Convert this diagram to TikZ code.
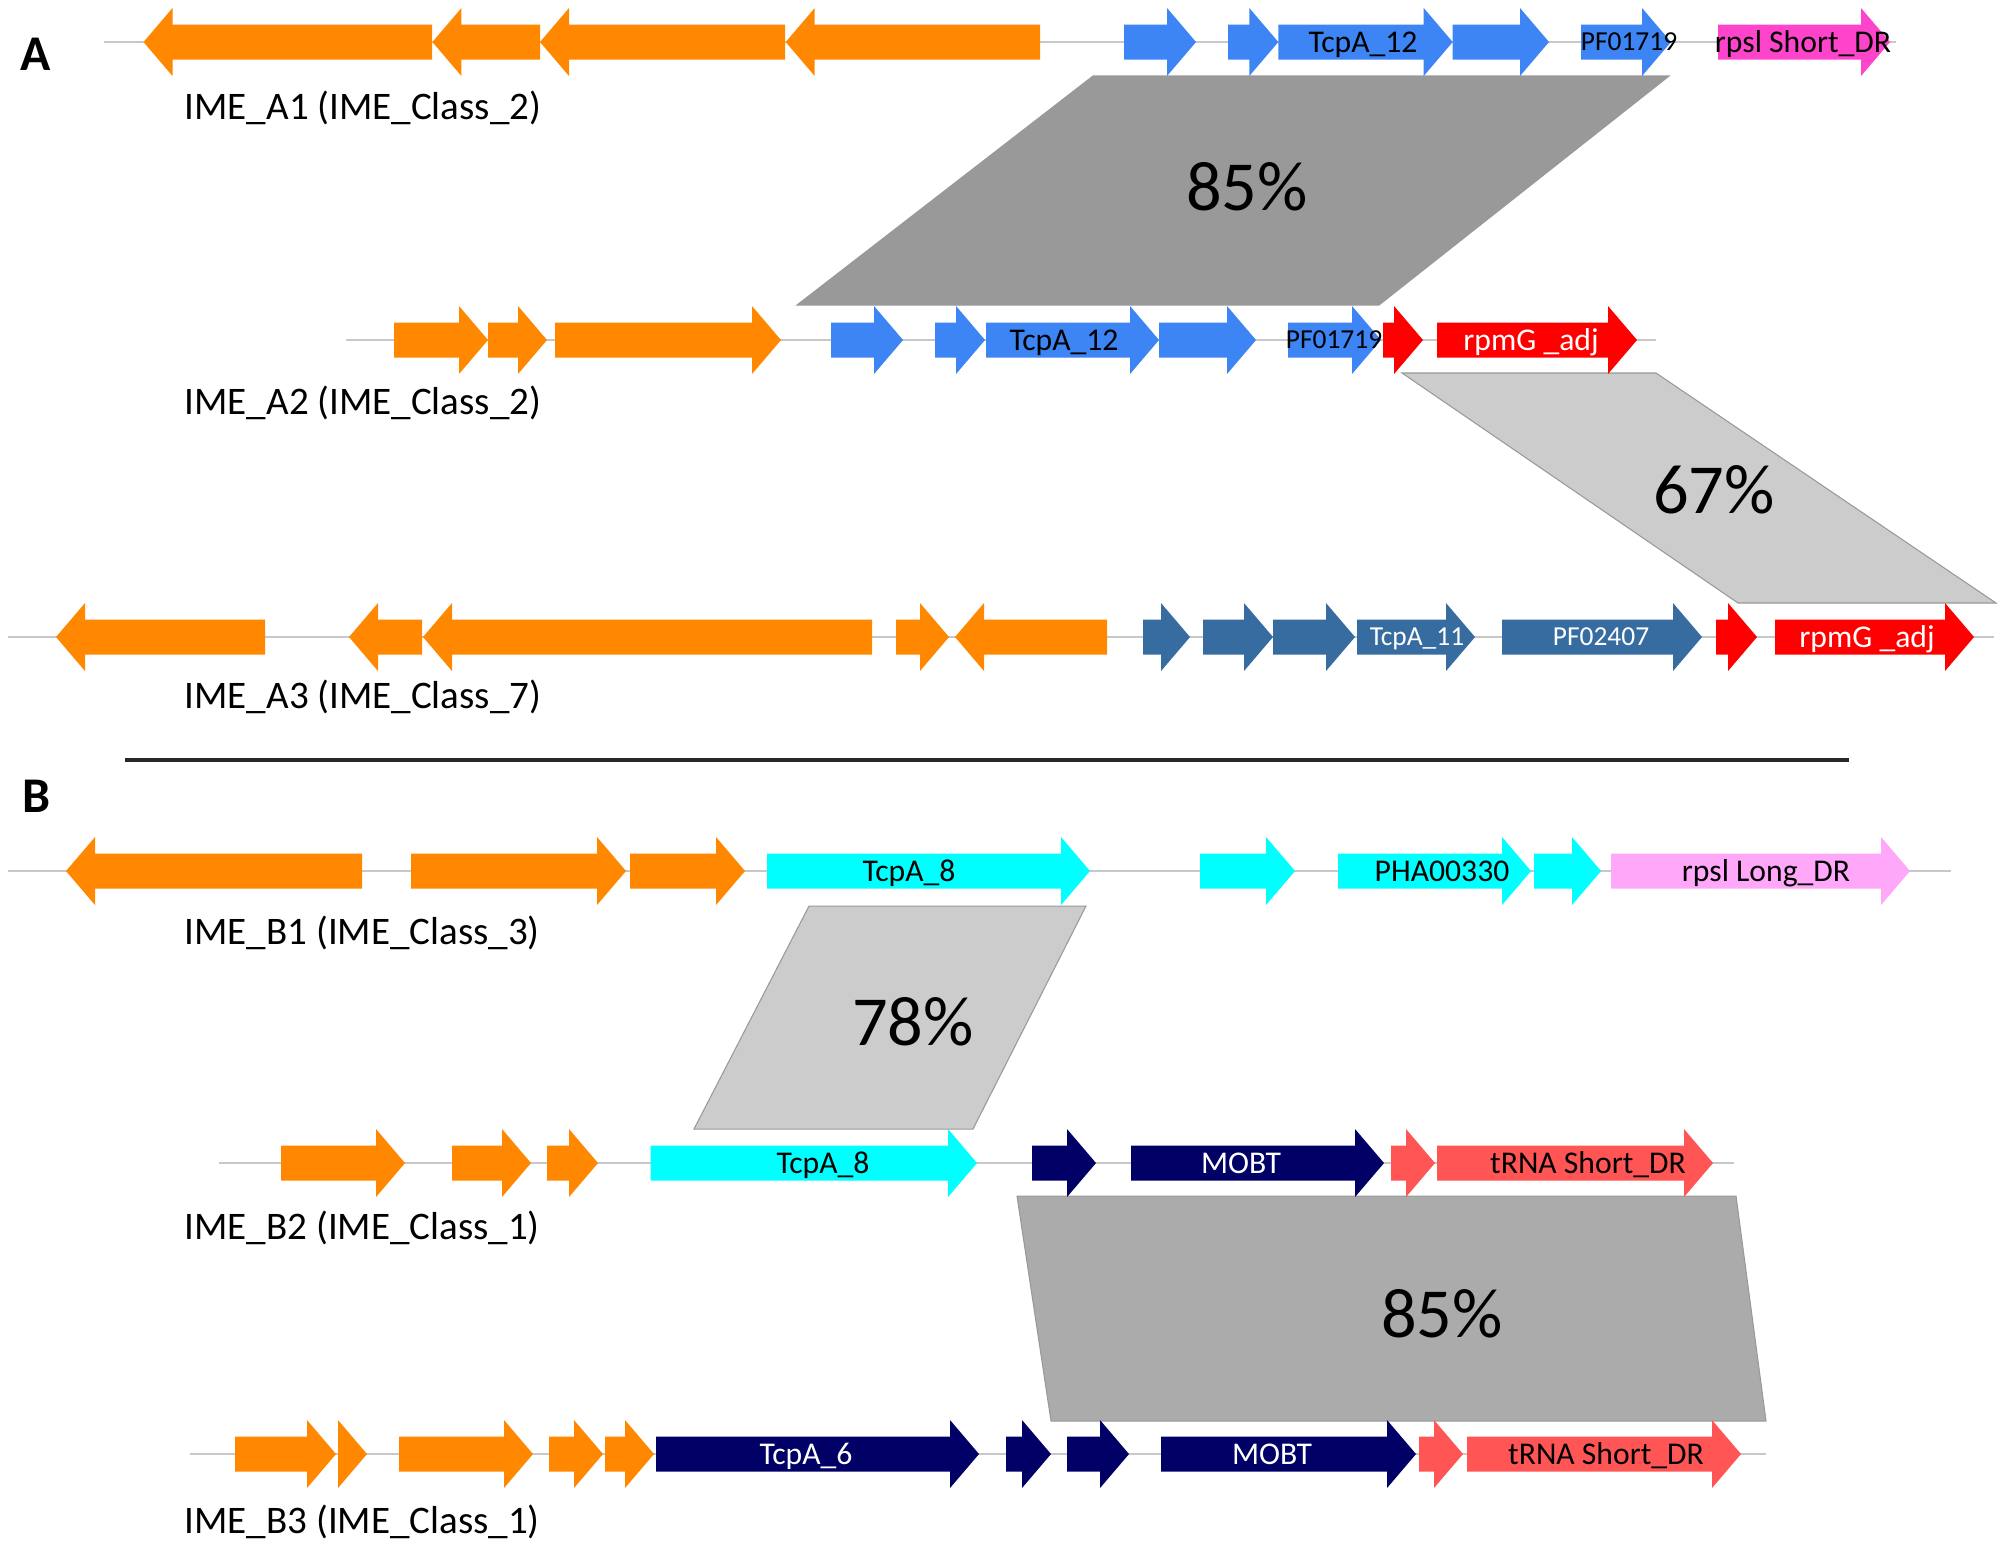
\documentclass[tikz,border=0pt]{standalone}
\usepackage{fontspec}
\setmainfont{Carlito}
\usetikzlibrary{positioning}
\definecolor{geneorange}{RGB}{255,136,0}
\definecolor{geneblue}{RGB}{61,133,245}
\definecolor{genesteel}{RGB}{54,108,160}
\definecolor{genered}{RGB}{255,0,0}
\definecolor{genemagenta}{RGB}{255,68,204}
\definecolor{genecyan}{RGB}{0,255,255}
\definecolor{genepink}{RGB}{255,168,250}
\definecolor{genenavy}{RGB}{0,0,102}
\definecolor{genesalmon}{RGB}{255,85,85}
\definecolor{trackgray}{RGB}{200,200,200}

% tail x, tip x, track y, colour
\newcommand{\gene}[4]{%
  \pgfmathsetmacro{\headx}{#2-(#2>#1?1:-1)*min(29,abs(#2-#1))}%
  \fill[#4] (#1,#3-17.5) -- (\headx,#3-17.5) -- (\headx,#3-34) -- (#2,#3)
    -- (\headx,#3+34) -- (\headx,#3+17.5) -- (#1,#3+17.5) -- cycle;}

\begin{document}
\begin{tikzpicture}[x=0.01cm, y=-0.01cm,
        track/.style={draw=trackgray, line width=0.7pt},
        genetext/.style={inner sep=0pt, font=\fontsize{9}{10}\selectfont, text height=5.8pt, text depth=0pt},
        smalltext/.style={genetext, font=\fontsize{7.8}{9}\selectfont, text height=5pt},
        imelabel/.style={anchor=west, inner sep=0pt, font=\fontsize{11.1}{13}\selectfont, text height=7.2pt, text depth=0pt},
        pct/.style={inner sep=0pt, font=\fontsize{20}{24}\selectfont, text height=12.6pt, text depth=0pt},
        panel/.style={inner sep=0pt, font=\fontsize{14.2}{17}\selectfont\bfseries, text height=9.2pt, text depth=0pt},
        block/.style={draw=black!40, line width=0.3pt}
    ]
        \path[use as bounding box, fill=white] (0,0) rectangle (2004,1550);

        \node[panel] (panelA) at (36,54) {A};
        \node[panel] (panelB) at (36,796) {B};
        \draw[line width=0.9pt, black!85] (125,760) -- (1849,760);

        \fill[block, fill=black!40] (1093,76) -- (1669,76) -- (1379,305) -- (797,305) -- cycle;
        \fill[block, fill=black!20] (1402,373) -- (1656,373) -- (1996,603) -- (1738,603) -- cycle;
        \fill[block, fill=black!20] (809,906) -- (1086,906) -- (973,1129) -- (694,1129) -- cycle;
        \fill[block, fill=black!33] (1017,1196) -- (1736,1196) -- (1766,1421) -- (1051,1421) -- cycle;

        \node[pct] (idA12) at (1247,188) {85\%};
        \node[pct] (idA23) at (1714,491) {67\%};
        \node[pct] (idB12) at (913,1023) {78\%};
        \node[pct] (idB23) at (1442,1315) {85\%};

        \draw[track] (104,42) -- (1896,42);
        \draw[track] (346,340) -- (1656,340);
        \draw[track] (8,637) -- (1994,637);
        \draw[track] (8,871) -- (1951,871);
        \draw[track] (219,1163) -- (1734,1163);
        \draw[track] (190,1454) -- (1766,1454);

        \foreach \t/\p/\c in {432/143.5/geneorange, 540/432.4/geneorange, 785/540/geneorange, 1040/785.7/geneorange,
            1124/1196/geneblue, 1228/1278.3/geneblue, 1278.3/1452.7/geneblue, 1452.7/1549/geneblue,
            1581/1671/geneblue, 1718/1890/genemagenta} {\gene{\t}{\p}{42}{\c}}
        \foreach \t/\p/\c in {394/488/geneorange, 488/547/geneorange, 555/781/geneorange,
            831/903/geneblue, 935/985/geneblue, 986/1159/geneblue, 1159/1256/geneblue, 1288/1381/geneblue,
            1383/1423/genered, 1437/1637/genered} {\gene{\t}{\p}{340}{\c}}
        \foreach \t/\p/\c in {265/56/geneorange, 422/349/geneorange, 872/423/geneorange, 896/949/geneorange, 1107/955/geneorange,
            1143/1190/genesteel, 1203/1273/genesteel, 1273/1355/genesteel, 1357/1475/genesteel, 1502/1702/genesteel,
            1716/1757/genered, 1775/1974/genered} {\gene{\t}{\p}{637}{\c}}
        \foreach \t/\p/\c in {362/66/geneorange, 411/626/geneorange, 630/745/geneorange,
            767/1090/genecyan, 1200/1295/genecyan, 1338/1531/genecyan, 1534/1601/genecyan,
            1611/1910/genepink} {\gene{\t}{\p}{871}{\c}}
        \foreach \t/\p/\c in {281/405/geneorange, 452/531/geneorange, 547/598/geneorange,
            650.5/977/genecyan, 1032/1096/genenavy, 1131/1384/genenavy,
            1391/1435/genesalmon, 1437/1713/genesalmon} {\gene{\t}{\p}{1163}{\c}}
        \foreach \t/\p/\c in {235/336/geneorange, 338/367/geneorange, 399/533/geneorange, 549/603/geneorange, 605/654/geneorange,
            656/979/genenavy, 1006/1051/genenavy, 1067/1129/genenavy, 1161/1416/genenavy,
            1419/1463/genesalmon, 1467/1741/genesalmon} {\gene{\t}{\p}{1454}{\c}}

        \node[genetext] (tcpA1) at (1363,42) {TcpA\_12};
        \node[smalltext] (pfA1) at (1629,42) {PF01719};
        \node[genetext] (drA1) at (1803,42) {rpsl Short\_DR};

        \node[genetext] (tcpA2) at (1064,340) {TcpA\_12};
        \node[smalltext] (pfA2) at (1334,340) {PF01719};
        \node[genetext, white] (rpmA2) at (1531,340) {rpmG \_adj};

        \node[smalltext, white] (tcpA3) at (1417,637) {TcpA\_11};
        \node[smalltext, white] (pfA3) at (1601,637) {PF02407};
        \node[genetext, white] (rpmA3) at (1867,637) {rpmG \_adj};

        \node[genetext] (tcpB1) at (909,871) {TcpA\_8};
        \node[genetext] (phaB1) at (1442,871) {PHA00330};
        \node[genetext] (drB1) at (1766,871) {rpsl Long\_DR};

        \node[genetext] (tcpB2) at (823,1163) {TcpA\_8};
        \node[genetext, white] (mobB2) at (1241,1163) {MOBT};
        \node[genetext] (drB2) at (1588,1163) {tRNA Short\_DR};

        \node[genetext, white] (tcpB3) at (806,1454) {TcpA\_6};
        \node[genetext, white] (mobB3) at (1272,1454) {MOBT};
        \node[genetext] (drB3) at (1606,1454) {tRNA Short\_DR};

        \node[imelabel] (imeA1) at (184,107) {IME\_A1 (IME\_Class\_2)};
        \node[imelabel] (imeA2) at (184,402) {IME\_A2 (IME\_Class\_2)};
        \node[imelabel] (imeA3) at (184,696) {IME\_A3 (IME\_Class\_7)};
        \node[imelabel] (imeB1) at (184,932) {IME\_B1 (IME\_Class\_3)};
        \node[imelabel] (imeB2) at (184,1227) {IME\_B2 (IME\_Class\_1)};
        \node[imelabel] (imeB3) at (184,1521) {IME\_B3 (IME\_Class\_1)};
    \end{tikzpicture}
\end{document}
